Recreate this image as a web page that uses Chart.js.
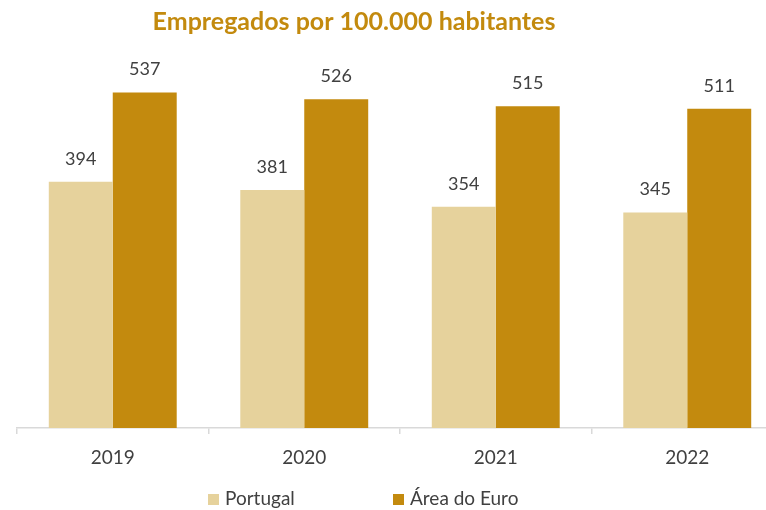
<!DOCTYPE html>
<html>
<head>
<meta charset="utf-8">
<script src="https://cdn.jsdelivr.net/npm/chart.js@4.4.1/dist/chart.umd.min.js"></script>
<style>
  html, body { margin: 0; padding: 0; overflow: hidden; background: #fff; }
  #wrap { position: relative; width: 766px; height: 510px; overflow: hidden; }
  #chart { position: absolute; left: 0; top: 0; }
</style>
</head>
<body>
<div id="wrap">
  <canvas id="chart" width="800" height="510"></canvas>
</div>
<script>
const title = "Empregados por 100.000 habitantes"
const years = ["2019", "2020", "2021", "2022"]
const portugal = [394, 381, 354, 345]
const areaEuro = [537, 526, 515, 511]

const textColor = "#404040"
const gold = "#C38A0E"
const tan = "#E6D29C"

// value labels above each bar
const valueLabels = {
  id: "valueLabels",
  afterDatasetsDraw(chart) {
    const ctx = chart.ctx
    ctx.save()
    ctx.font = "18px Lato"
    ctx.fillStyle = textColor
    ctx.textAlign = "center"
    ctx.textBaseline = "alphabetic"
    chart.data.datasets.forEach((ds, i) => {
      chart.getDatasetMeta(i).data.forEach((bar, j) => {
        ctx.fillText(String(ds.data[j]), bar.x, bar.y - 17)
      })
    })
    ctx.restore()
  }
}

// title and legend placed like the original (not centered on the plot)
const titleAndLegend = {
  id: "titleAndLegend",
  afterDraw(chart) {
    const ctx = chart.ctx
    ctx.save()
    ctx.font = "bold 25px Lato"
    ctx.fillStyle = gold
    ctx.textAlign = "center"
    ctx.textBaseline = "alphabetic"
    ctx.fillText(title, 354, 30)

    ctx.font = "19px Lato"
    ctx.textAlign = "left"
    const starts = [208, 393]
    chart.data.datasets.forEach((ds, i) => {
      const x = starts[i]
      ctx.fillStyle = ds.backgroundColor
      ctx.fillRect(x, 494, 11, 11)
      ctx.fillStyle = textColor
      ctx.fillText(ds.label, x + 17, 505)
    })
    ctx.restore()
  }
}

new Chart(document.getElementById("chart"), {
  type: "bar",
  data: {
    labels: years,
    datasets: [
      {
        label: "Portugal",
        data: portugal,
        backgroundColor: tan,
        categoryPercentage: 0.668,
        barPercentage: 1.0
      },
      {
        label: "Área do Euro",
        data: areaEuro,
        backgroundColor: gold,
        categoryPercentage: 0.668,
        barPercentage: 1.0
      }
    ]
  },
  options: {
    responsive: false,
    animation: false,
    layout: {
      padding: { left: 17, right: 17, top: 53, bottom: 0 }
    },
    plugins: {
      legend: { display: false },
      title: { display: false },
      tooltip: { enabled: false }
    },
    scales: {
      x: {
        grid: {
          offset: true,
          drawOnChartArea: false,
          drawTicks: true,
          tickLength: 6,
          color: "#D9D9D9",
          lineWidth: 1.5
        },
        border: { display: true, color: "#D9D9D9", width: 1.5 },
        ticks: {
          color: textColor,
          font: { family: "Lato", size: 19 },
          padding: 12
        },
        afterFit(scale) {
          scale.height = 82
        }
      },
      y: {
        display: false,
        min: 0,
        max: 600
      }
    }
  },
  plugins: [valueLabels, titleAndLegend]
})
</script>
</body>
</html>
